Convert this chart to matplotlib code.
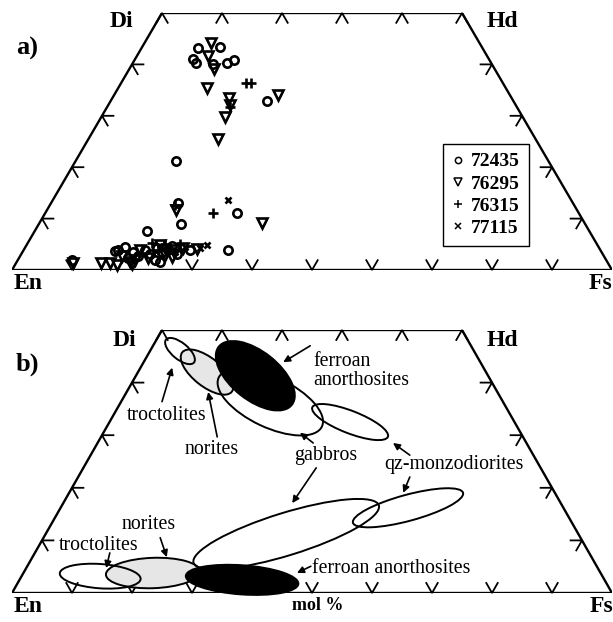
import numpy as np
import matplotlib
matplotlib.use("Agg")
import matplotlib.pyplot as plt
from matplotlib.patches import Ellipse, Polygon
from matplotlib.lines import Line2D

S3 = np.sqrt(3) / 2
SERIF = "Liberation Serif"

# ---------------- panel a: pyroxene compositions (mol% Fs, Wo) ----------------
fs_72435 = [9.5, 12.9, 9.6, 10.6, 15.7, 16.5, 13.4, 26.1, 16.7, 21.2, 31.9, 23.7, 18.7,
            34.1, 15.4, 22.9, 27.7, 9.1, 15.7, 16.6, 18.4, 19.6, 20.2, 21.4, 22.0, 23.2,
            24.1, 24.3, 25.9, 23.9, 18.2]
wo_72435 = [43.1, 43.4, 41.0, 40.2, 40.2, 40.9, 40.1, 32.9, 21.2, 13.0, 11.1, 8.9, 7.5,
            3.9, 3.6, 1.9, 3.9, 1.9, 3.9, 4.5, 3.5, 2.7, 3.9, 3.1, 4.3, 3.5,
            3.9, 4.7, 3.1, 1.6, 2.3]

fs_76295 = [11.1, 11.9, 14.1, 14.8, 27.4, 19.5, 20.3, 20.6, 21.6, 21.5, 37.1, 9.4, 14.2,
            15.7, 17.0, 19.4, 28.7, 25.4, 17.0, 18.9, 19.4, 21.5, 22.2, 24.0, 25.2, 26.4, 19.5]
wo_76295 = [44.1, 41.6, 39.2, 35.5, 34.0, 33.4, 32.1, 29.7, 25.5, 11.7, 9.1, 1.4, 1.4,
            1.3, 1.0, 1.1, 4.1, 2.5, 2.7, 1.6, 3.9, 2.3, 4.9, 2.9, 3.9, 4.3, 1.9]

fs_76315 = [20.8, 21.7, 20.4, 28.0, 20.8, 20.7, 23.0, 22.4, 24.2, 25.5]
wo_76315 = [36.4, 36.4, 31.7, 11.0, 12.6, 5.3, 5.1, 3.9, 4.3, 5.1]

fs_77115 = [29.2, 30.1, 29.2, 25.4, 26.6]
wo_77115 = [13.6, 4.9, 4.3, 3.5, 4.5]

sample_names = ["72435", "76295", "76315", "77115"]

# ---------------- panel b: compositional fields (centre Fs, Wo in mol%) ----------------
field_fs = [5.0, 11.5, 19.9, 24.9, 40.1, 13.1, 21.6, 37.1, 40.1, 57.9]
field_wo = [46.0, 42.0, 41.3, 36.3, 32.5, 3.2, 3.8, 2.5, 11.2, 16.2]
field_len = [6.0, 10.5, 15.5, 19.0, 13.5, 13.5, 15.7, 18.8, 32.3, 19.0]
field_wid = [2.7, 4.7, 8.0, 8.3, 3.7, 4.0, 5.0, 4.8, 7.0, 4.3]
field_ang = [-39, -38, -38, -25, -21, -4, 2, -4, 17, 15]
field_kind = ["troct", "norite", "fan", "gabbro", "qzmd",
              "troct", "norite", "fan", "gabbro", "qzmd"]


def xy(fs, wo):
    fs = np.asarray(fs, float)
    wo = np.asarray(wo, float)
    return fs + wo / 2, wo * S3


def draw_frame(ax):
    x, y = xy([0, 100, 50, 0], [0, 0, 50, 50])
    ax.add_patch(Polygon(np.c_[x, y], closed=True, fill=False, lw=1.7, ec="black",
                         joinstyle="miter", zorder=6))
    L = 1.9
    kw = dict(color="black", lw=1.3, zorder=1, solid_joinstyle="miter", clip_on=False)
    for f in range(10, 100, 10):
        x0, y0 = xy(f, 0)
        ax.plot([x0 - L * 0.5, x0, x0 + L * 0.5], [y0 + L * S3, y0, y0 + L * S3], **kw)
    for f in range(0, 60, 10):
        x0, y0 = xy(f, 50)
        ax.plot([x0 - L * 0.5, x0, x0 + L * 0.5], [y0 - L * S3, y0, y0 - L * S3], **kw)
    for w in range(10, 50, 10):
        x0, y0 = xy(0, w)
        ax.plot([x0 + L, x0, x0 + L * 0.5], [y0, y0, y0 - L * S3], **kw)
        x0, y0 = xy(100 - w, w)
        ax.plot([x0 - L, x0, x0 - L * 0.5], [y0, y0, y0 - L * S3], **kw)
    ax.set_xlim(0, 100)
    ax.set_ylim(0, 50 * S3)
    ax.axis("off")


fig = plt.figure(figsize=(6.13, 6.22), dpi=100)
W, H = 613, 622
ax_a = fig.add_axes([12 / W, (H - 270) / H, 600 / W, 257 / H])
ax_b = fig.add_axes([12 / W, (H - 593) / H, 600 / W, 263 / H])

bold = dict(family=SERIF, weight="bold")

# ---------------- panel a ----------------
draw_frame(ax_a)
mk = dict(ls="none", color="black", mfc="none", mew=1.9, clip_on=False, zorder=3)
series = [(fs_72435, wo_72435, "o", 6.0), (fs_76295, wo_76295, "v", 6.8),
          (fs_76315, wo_76315, "+", 6.5), (fs_77115, wo_77115, "x", 5.0)]
leg_sizes = [4.5, 5.5, 5.5, 4.5]
handles = []
for (fs, wo, m, s), name, ls_ in zip(series, sample_names, leg_sizes):
    x, y = xy(fs, wo)
    ax_a.plot(x, y, marker=m, ms=s, **mk)
    handles.append(Line2D([], [], ls="none", marker=m, ms=ls_, color="black",
                          mfc="none", mew=1.1, label=name))

leg = fig.legend(handles=handles, loc="upper left", bbox_to_anchor=(443 / W, 1 - 144 / H),
                 frameon=True, fancybox=False, edgecolor="black", framealpha=1,
                 prop=dict(family=SERIF, weight="bold", size=14), handlelength=0.6,
                 handletextpad=0.4, labelspacing=0.24, borderpad=0.45, borderaxespad=0)
leg.get_frame().set_linewidth(1.0)

ax_a.text(18.3, 41.8, "Di", ha="center", va="center", fontsize=17, **bold)
ax_a.text(81.8, 41.8, "Hd", ha="center", va="center", fontsize=17, **bold)
ax_a.text(2.7, -2.2, "En", ha="center", va="center", fontsize=17, **bold)
ax_a.text(98.0, -2.2, "Fs", ha="center", va="center", fontsize=17, **bold)
ax_a.text(2.5, 37.4, "a)", ha="center", va="center", fontsize=19, **bold)

# ---------------- panel b ----------------
draw_frame(ax_b)
style = {"troct": dict(fill=False, ec="black", lw=1.4, zorder=4),
         "norite": dict(fc="#e6e6e6", ec="black", lw=1.4, zorder=2),
         "fan": dict(fc="black", ec="black", lw=1.4, zorder=5),
         "gabbro": dict(fill=False, ec="black", lw=1.4, zorder=3),
         "qzmd": dict(fill=False, ec="black", lw=1.4, zorder=3)}
for fs, wo, a, b, ang, kind in zip(field_fs, field_wo, field_len, field_wid, field_ang, field_kind):
    x, y = xy(fs, wo)
    ax_b.add_patch(Ellipse((x, y), a, b, angle=ang, clip_on=False, **style[kind]))

reg = dict(family=SERIF, fontsize=14.3)
arr = dict(arrowstyle="-|>", color="black", lw=1.2, mutation_scale=10, shrinkA=0, shrinkB=0)

ax_b.text(50.2, 36.6, "ferroan\nanorthosites", ha="left", va="center", linespacing=1.0, **reg)
ax_b.annotate("", xy=(45.2, 38.0), xytext=(49.7, 40.7), arrowprops=arr, zorder=7)

ax_b.text(25.7, 29.3, "troctolites", ha="center", va="center", **reg)
ax_b.annotate("", xy=(26.7, 37.1), xytext=(25.0, 31.5), arrowprops=arr)

ax_b.text(33.3, 23.6, "norites", ha="center", va="center", **reg)
ax_b.annotate("", xy=(32.7, 33.1), xytext=(34.2, 25.7), arrowprops=arr)

ax_b.text(52.2, 22.7, "gabbros", ha="center", va="center", **reg)
ax_b.annotate("", xy=(48.0, 26.4), xytext=(50.2, 24.7), arrowprops=arr)
ax_b.annotate("", xy=(46.7, 14.8), xytext=(50.7, 20.6), arrowprops=arr)

ax_b.text(73.7, 21.1, "qz-monzodiorites", ha="center", va="center", **reg)
ax_b.annotate("", xy=(63.5, 24.7), xytext=(66.3, 22.7), arrowprops=arr)
ax_b.annotate("", xy=(65.2, 16.5), xytext=(66.3, 19.1), arrowprops=arr)

ax_b.text(22.7, 11.2, "norites", ha="center", va="center", **reg)
ax_b.annotate("", xy=(25.8, 5.9), xytext=(24.7, 9.1), arrowprops=arr)

ax_b.text(14.5, 7.9, "troctolites", ha="center", va="center", **reg)
ax_b.annotate("", xy=(15.7, 4.1), xytext=(16.3, 6.6), arrowprops=arr)

ax_b.text(50.0, 4.1, "ferroan anorthosites", ha="left", va="center", **reg)
ax_b.annotate("", xy=(47.5, 3.3), xytext=(49.8, 4.4), arrowprops=arr, zorder=7)

ax_b.text(18.8, 41.5, "Di", ha="center", va="center", fontsize=17, **bold)
ax_b.text(81.8, 41.5, "Hd", ha="center", va="center", fontsize=17, **bold)
ax_b.text(2.7, -2.3, "En", ha="center", va="center", fontsize=17, **bold)
ax_b.text(98.2, -2.3, "Fs", ha="center", va="center", fontsize=17, **bold)
ax_b.text(51.0, -2.1, "mol %", ha="center", va="center", fontsize=13, **bold)
ax_b.text(2.5, 37.7, "b)", ha="center", va="center", fontsize=19, **bold)

fig.savefig("out.png", dpi=100)
